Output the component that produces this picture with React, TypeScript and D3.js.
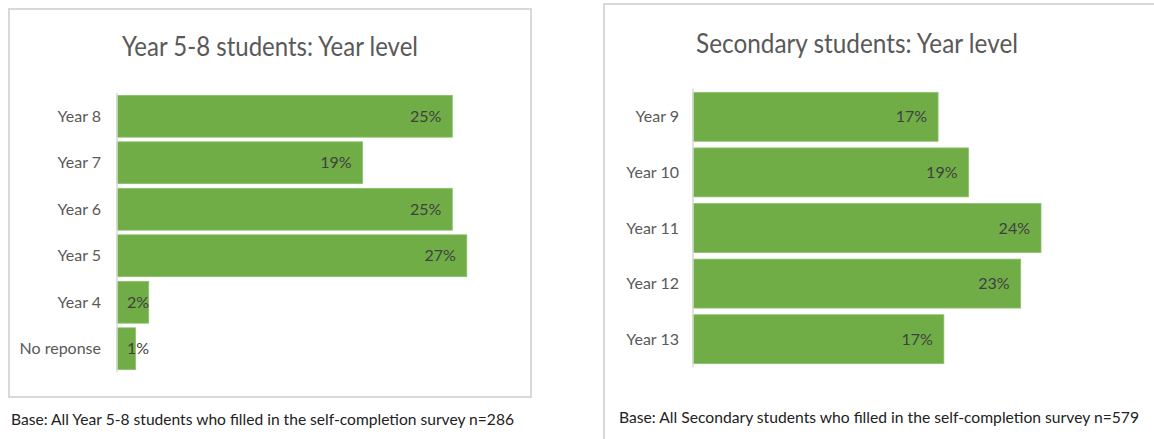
import React from "react";
import * as d3 from "d3";

const leftCategories = ["Year 8", "Year 7", "Year 6", "Year 5", "Year 4", "No reponse"];
const leftValues = [25.4, 18.6, 25.4, 26.5, 2.4, 1.4];
const leftTitle = "Year 5-8 students: Year level";
const leftBase = "Base: All Year 5-8 students who filled in the self-completion survey n=286";

const rightCategories = ["Year 9", "Year 10", "Year 11", "Year 12", "Year 13"];
const rightValues = [16.9, 19.0, 24.0, 22.6, 17.3];
const rightTitle = "Secondary students: Year level";
const rightBase = "Base: All Secondary students who filled in the self-completion survey n=579";

const FONT = "Lato, 'Open Sans', sans-serif";
const GREEN = "#70ad47";

type PanelProps = {
  categories: string[];
  values: number[];
  title: string;
  box: { x: number; y: number; w: number; h: number };
  titleX: number;
  titleY: number;
  titleLen: number;
  x0: number;
  pxPerPct: number;
  yTop: number;
  yBottom: number;
  padding: number;
  labelRight: number;
};

function Panel(p: PanelProps) {
  const y = d3.scaleBand<string>().domain(p.categories).range([p.yTop, p.yBottom]).paddingInner(p.padding).paddingOuter(p.padding / 2);
  const x = d3.scaleLinear().domain([0, 30]).range([p.x0, p.x0 + 30 * p.pxPerPct]);
  const fmt = (v: number) => `${Math.round(v)}%`;
  return (
    <g>
      <rect x={p.box.x} y={p.box.y} width={p.box.w} height={p.box.h} fill="#fff" stroke="#d9d9d9" strokeWidth={2} />
      <text x={p.titleX} y={p.titleY} textAnchor="middle" fontFamily={FONT} fontSize={26} fill="#595959" textLength={p.titleLen} lengthAdjust="spacingAndGlyphs">
        {p.title}
      </text>
      {p.categories.map((c, i) => {
        const v = p.values[i];
        const by = y(c)!;
        const bh = y.bandwidth();
        const end = Math.max(x(v) - 11, x(0) + 32);
        return (
          <g key={c}>
            <rect x={x(0)} y={by} width={x(v) - x(0)} height={bh} fill={GREEN} stroke="#8cc06a" strokeWidth={0.8} />
            <text x={p.labelRight} y={by + bh / 2} dy="0.35em" textAnchor="end" fontFamily={FONT} fontSize={16} fill="#595959">
              {c}
            </text>
            <text x={end} y={by + bh / 2} dy="0.35em" textAnchor="end" fontFamily={FONT} fontSize={16} fill="#404040">
              {fmt(v)}
            </text>
          </g>
        );
      })}
      <line x1={x(0)} x2={x(0)} y1={p.yTop} y2={p.yBottom} stroke="#d9d9d9" strokeWidth={1.5} />
    </g>
  );
}

export default function App() {
  return (
    <svg width={1154} height={439} style={{ position: "absolute", left: 0, top: 0, background: "#fff" }}>
      <rect x={0} y={0} width={1154} height={439} fill="#fff" />
      <Panel
        categories={leftCategories}
        values={leftValues}
        title={leftTitle}
        box={{ x: 9, y: 9, w: 522, h: 388 }}
        titleX={270}
        titleY={56}
        titleLen={296}
        x0={117}
        pxPerPct={13.2}
        yTop={93}
        yBottom={372}
        padding={0.1}
        labelRight={101}
      />
      <Panel
        categories={rightCategories}
        values={rightValues}
        title={rightTitle}
        box={{ x: 604, y: 4, w: 600, h: 460 }}
        titleX={857}
        titleY={53}
        titleLen={322}
        x0={693}
        pxPerPct={14.5}
        yTop={89}
        yBottom={367}
        padding={0.12}
        labelRight={679}
      />
      <text x={11} y={425} fontFamily={FONT} fontSize={15} fill="#222" textLength={503} lengthAdjust="spacingAndGlyphs">
        {leftBase}
      </text>
      <text x={619} y={423} fontFamily={FONT} fontSize={15} fill="#222" textLength={520} lengthAdjust="spacingAndGlyphs">
        {rightBase}
      </text>
    </svg>
  );
}
